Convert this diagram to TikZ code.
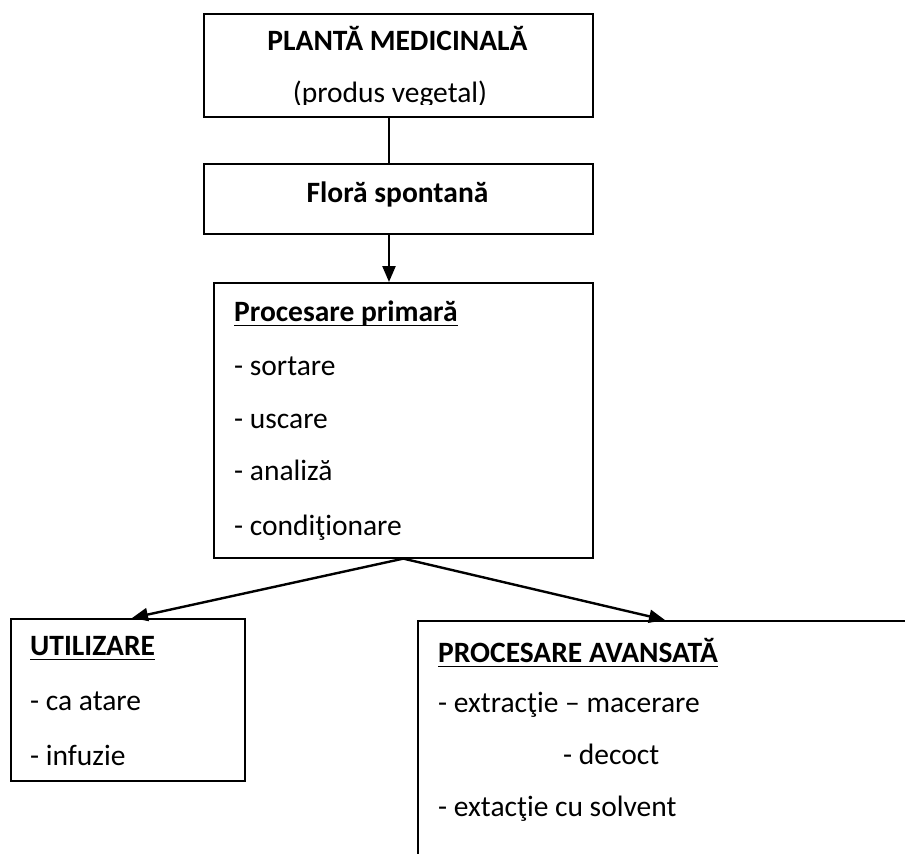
\documentclass[tikz,border=0pt]{standalone}
\usepackage{fontspec}
\setmainfont{Carlito}
\usetikzlibrary{arrows.meta}

\begin{document}
\begin{tikzpicture}[x=1pt, y=-1pt,
  box/.style={draw, line width=1.6pt, inner sep=0pt, anchor=north west},
  txt/.style={inner sep=0pt, anchor=base west, font=\fontsize{29.5}{35}\selectfont},
  ttl/.style={txt, font=\fontsize{29.5}{35}\selectfont\bfseries},
  link/.style={line width=2.4pt, -{Triangle[length=16pt,width=13pt]}},
  uline/.style={line width=1.8pt}]
\clip (0,0) rectangle (905,854);
\node[box, minimum width=389pt, minimum height=103pt] (plant) at (203,13) {};
\node[box, minimum width=389pt, minimum height=70pt] (flora) at (203,163) {};
\node[box, minimum width=379pt, minimum height=275pt] (prim) at (213,282) {};
\node[box, minimum width=234pt, minimum height=162pt] (util) at (10,618) {};
\node[box, minimum width=520pt, minimum height=300pt] (avans) at (417,620) {};
\coordinate (vx) at (389,0);
\coordinate (ux) at (132,0);
\coordinate (ax) at (665,0);

\node[ttl, anchor=base] (plantname) at (397.5,50) {PLANTĂ MEDICINALĂ};
\begin{scope}
\clip (203,13) rectangle (592,104);
\node[txt, anchor=base] (plantsub) at (390,102.5) {(produs vegetal)};
\end{scope}
\node[ttl, anchor=base] (floraname) at (397.5,202) {Floră spontană};

\node[ttl] (primtitle) at (234,321) {Procesare primară};
\node[txt] (p1) at (234,375) {- sortare};
\node[txt] (p2) at (234,428) {- uscare};
\node[txt] (p3) at (234,480) {- analiză};
\node[txt] (p4) at (234,535) {- condiţionare};

\node[ttl] (utiltitle) at (30,655) {UTILIZARE};
\node[txt] (u1) at (30,710) {- ca atare};
\node[txt] (u2) at (30,765) {- infuzie};

\node[ttl] (avanstitle) at (438,662) {PROCESARE AVANSATĂ};
\node[txt] (a1) at (438,712) {- extracţie – macerare};
\node[txt] (a2) at (563,764) {- decoct};
\node[txt] (a3) at (438,816) {- extacţie cu solvent};

\draw[uline] ([yshift=-4.5pt]primtitle.base west) -- ([yshift=-4.5pt]primtitle.base east);
\draw[uline] ([yshift=-4.5pt]utiltitle.base west) -- ([yshift=-4.5pt]utiltitle.base east);
\draw[uline] ([yshift=-4.5pt]avanstitle.base west) -- ([yshift=-4.5pt]avanstitle.base east);

\draw[line width=1.6pt] (plant.south -| vx) -- (flora.north -| vx);
\draw[link] (flora.south -| vx) -- (prim.north -| vx);
\draw[link] (prim.south) -- (util.north -| ux);
\draw[link] (prim.south) -- (avans.north west -| ax);
\end{tikzpicture}
\end{document}
